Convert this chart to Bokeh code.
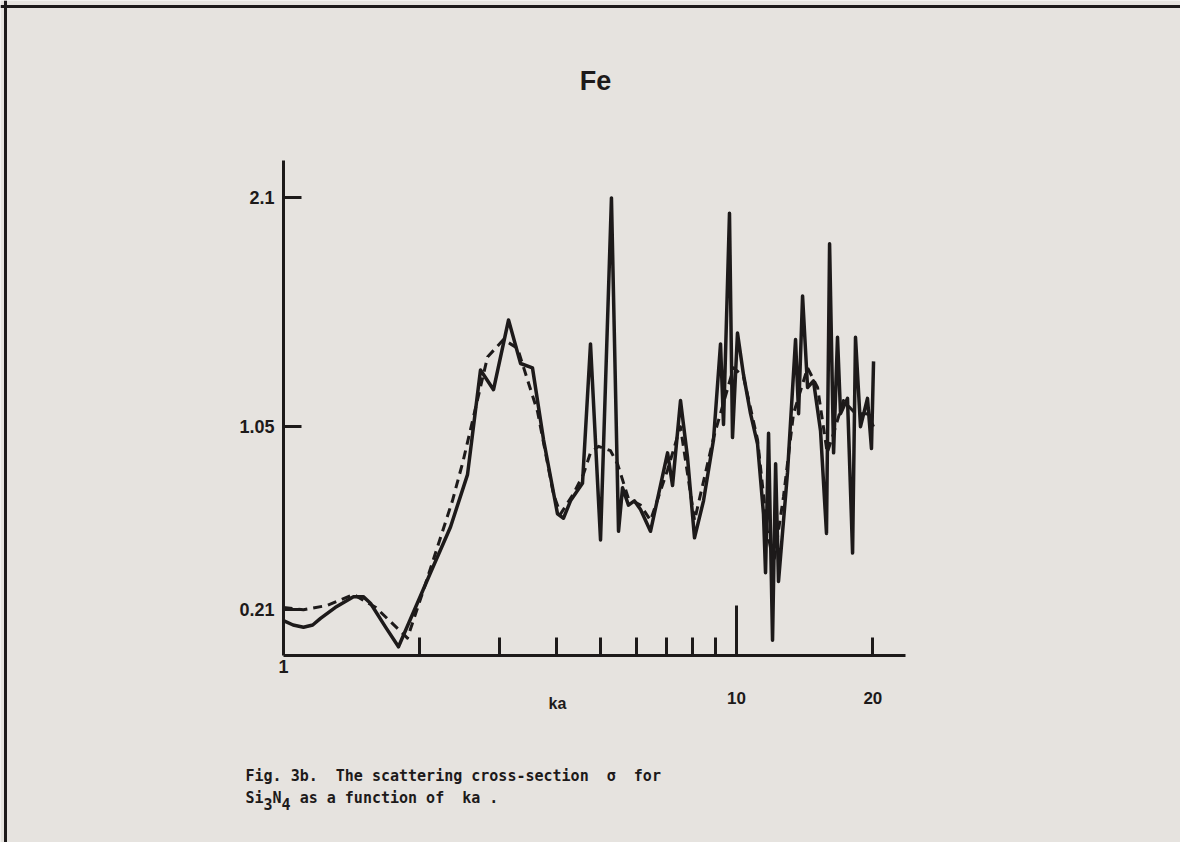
from bokeh.plotting import figure
from bokeh.models import (LogAxis, LinearAxis, FixedTicker, Range1d, Label,
                          Span, LogScale)
from bokeh.embed import file_html
from bokeh.resources import INLINE

# ---------------- data ----------------
KA_SOLID = [1.00, 1.05, 1.107, 1.16, 1.207, 1.30, 1.427, 1.50, 1.556, 1.68, 1.794, 2.111, 2.337, 2.548,
            2.722, 2.908, 3.139, 3.337, 3.545, 3.75, 4.026, 4.151, 4.301, 4.571,
            4.761, 5.01, 5.296, 5.49, 5.603, 5.775, 5.95, 6.14, 6.459, 7.044,
            7.224, 7.523, 7.795, 8.078, 8.456, 8.897, 9.22, 9.361, 9.65, 9.799,
            10.05, 10.36, 10.74, 11.13, 11.47, 11.59, 11.77, 12.01, 12.20, 12.38,
            12.96, 13.50, 13.71, 13.99, 14.35, 14.79, 15.33, 15.80, 16.05, 16.38,
            16.71, 16.97, 17.58, 18.04, 18.31, 18.78, 19.46, 19.86, 20.07]
SIGMA_SOLID = [0.16, 0.14, 0.13, 0.14, 0.17, 0.22, 0.27, 0.27, 0.24, 0.13, 0.04, 0.38, 0.59, 0.83,
               1.31, 1.22, 1.54, 1.34, 1.32, 0.99, 0.65, 0.63, 0.71, 0.79,
               1.43, 0.53, 2.10, 0.57, 0.77, 0.69, 0.71, 0.67, 0.57, 0.93,
               0.78, 1.17, 0.91, 0.54, 0.71, 0.99, 1.43, 1.06, 2.03, 1.00,
               1.48, 1.29, 1.11, 0.97, 0.65, 0.38, 1.02, 0.07, 0.88, 0.34,
               0.84, 1.45, 1.11, 1.65, 1.23, 1.26, 1.03, 0.56, 1.89, 0.93,
               1.46, 1.11, 1.18, 0.47, 1.46, 1.05, 1.18, 0.95, 1.35]

KA_DASH = [1.00, 1.107, 1.25, 1.427, 1.60, 1.794, 1.878, 2.037, 2.36, 2.49,
           2.821, 3.06, 3.286, 3.637, 3.945, 4.09, 4.36, 4.59, 4.76, 4.96,
           5.27, 5.46, 5.775, 6.14, 6.46, 7.04, 7.52, 8.08, 8.90, 9.85,
           10.36, 11.13, 11.70, 12.07, 12.70, 13.36, 14.35, 15.10, 15.86, 16.38,
           17.22, 18.31, 19.46, 20.07]
SIGMA_DASH = [0.22, 0.21, 0.23, 0.28, 0.22, 0.12, 0.08, 0.30, 0.71, 0.89,
              1.37, 1.45, 1.41, 1.12, 0.74, 0.65, 0.74, 0.83, 0.93, 0.96,
              0.94, 0.88, 0.72, 0.69, 0.62, 0.85, 1.05, 0.62, 1.00, 1.32,
              1.28, 0.99, 0.57, 0.42, 0.73, 1.11, 1.32, 1.23, 0.93, 1.02,
              1.17, 1.11, 1.11, 1.05]

X_TICKS = [2, 3, 4, 5, 6, 7, 8, 9, 10, 20]
X_TICK_LABELS = {10: "10", 20: "20"}
X_LONG_TICK = [10]
X_FIRST = [1]
Y_TICKS = [0.21, 1.05, 2.1]
Y_TICK_LABELS = ["0.21", "1.05", "2.1"]
X_AXIS_END = 23.6
Y_AXIS_END = 2.27

NB = "\u00a0"
TITLE = "Fe"
XLABEL = "ka"
CAPTION1 = "Fig. 3b." + NB * 2 + "The scattering cross-section" + NB * 2 + "\u03c3" + NB * 2 + "for"
CAPTION2 = [("Si", 0), ("3", 1), ("N", 0), ("4", 1),
            (NB + "as a function of" + NB * 2 + "ka" + NB + ".", 0)]

# ---------------- layout ----------------
W, H = 1180, 842
PAGE_L, PAGE_T = 0, 0
KA1_PX, DEC_PX = 283.0, 453.0     # picture x of ka=1, px per decade
Y0_PY, Y_PER = 655.0, 217.9       # picture y of sigma=0, px per unit


def sx(px):
    return 10 ** ((px - KA1_PX) / DEC_PX)


def sy(py):
    return (Y0_PY - py) / Y_PER


INK = "#1d1a1a"
BG = "#e6e3df"
LBL_FONT = "Liberation Sans"
MONO = "DejaVu Sans Mono"

p = figure(width=W, height=H, x_axis_type=None, y_axis_type=None,
           x_range=Range1d(sx(PAGE_L), sx(PAGE_L + W)),
           y_range=Range1d(sy(PAGE_T + H), sy(PAGE_T)),
           output_backend="svg", toolbar_location=None, min_border=0)
p.x_scale = LogScale()
p.background_fill_color = BG
p.border_fill_color = BG
p.outline_line_color = None
p.grid.visible = False

# x axis (main)
xa = LogAxis(fixed_location=0, bounds=(1, X_AXIS_END),
             ticker=FixedTicker(ticks=X_TICKS, minor_ticks=[]),
             major_label_overrides={t: X_TICK_LABELS.get(t, "") for t in X_TICKS},
             major_tick_in=18, major_tick_out=0,
             major_label_standoff=36,
             axis_line_width=3, axis_line_color=INK,
             major_tick_line_width=3, major_tick_line_color=INK,
             minor_tick_line_color=None,
             major_label_text_font=LBL_FONT, major_label_text_font_style="bold",
             major_label_text_font_size="17px", major_label_text_color=INK)
p.add_layout(xa, "below")

# long tick at 10
xb = LogAxis(fixed_location=0, ticker=FixedTicker(ticks=X_LONG_TICK, minor_ticks=[]),
             major_label_overrides={t: "" for t in X_LONG_TICK},
             major_tick_in=50, major_tick_out=0, axis_line_color=None,
             major_tick_line_width=3, major_tick_line_color=INK,
             minor_tick_line_color=None)
p.add_layout(xb, "below")

# "1" label near the origin
xc = LogAxis(fixed_location=0, ticker=FixedTicker(ticks=X_FIRST, minor_ticks=[]),
             major_label_overrides={t: str(t) for t in X_FIRST},
             major_tick_in=0, major_tick_out=0, axis_line_color=None,
             major_tick_line_color=None, minor_tick_line_color=None,
             major_label_standoff=4,
             major_label_text_font=LBL_FONT, major_label_text_font_style="bold",
             major_label_text_font_size="18px", major_label_text_color=INK)
p.add_layout(xc, "below")

# y axis
ya = LinearAxis(fixed_location=1, bounds=(0, Y_AXIS_END),
                ticker=FixedTicker(ticks=Y_TICKS, minor_ticks=[]),
                major_label_overrides=dict(zip(Y_TICKS, Y_TICK_LABELS)),
                major_tick_in=18, major_tick_out=0,
                major_label_standoff=9,
                axis_line_width=3, axis_line_color=INK,
                major_tick_line_width=3, major_tick_line_color=INK,
                minor_tick_line_color=None,
                major_label_text_font=LBL_FONT, major_label_text_font_style="bold",
                major_label_text_font_size="18px", major_label_text_color=INK)
p.add_layout(ya, "left")

# curves
p.line(KA_DASH, SIGMA_DASH, line_width=3, line_color=INK, line_dash="9 6",
       line_join="round")
p.line(KA_SOLID, SIGMA_SOLID, line_width=3.5, line_color=INK, line_join="round")

# texts
p.add_layout(Label(x=sx(595), y=sy(80), text=TITLE, text_align="center",
                   text_baseline="middle", text_font=LBL_FONT,
                   text_font_style="bold", text_font_size="27px", text_color=INK))
p.add_layout(Label(x=sx(557), y=sy(703), text=XLABEL, text_align="center",
                   text_baseline="middle", text_font=LBL_FONT,
                   text_font_style="bold", text_font_size="16px", text_color=INK))
p.add_layout(Label(x=sx(245), y=sy(775), text=CAPTION1, text_align="left",
                   text_baseline="middle", text_font=MONO,
                   text_font_style="bold", text_font_size="15px", text_color=INK))
CW = 9.03
cx = 245.0
for txt, sub in CAPTION2:
    p.add_layout(Label(x=sx(cx), y=sy(797 + 6 * sub), text=txt, text_align="left",
                       text_baseline="middle", text_font=MONO,
                       text_font_style="bold", text_font_size="15px",
                       text_color=INK))
    cx += CW * len(txt)

# frame lines of the scanned page (left and top)
p.add_layout(Span(location=sx(5), dimension="height",
                  line_color=INK, line_width=3))
p.add_layout(Span(location=sy(6), dimension="width",
                  line_color=INK, line_width=3))

open("out.html", "w").write(file_html(p, INLINE))
